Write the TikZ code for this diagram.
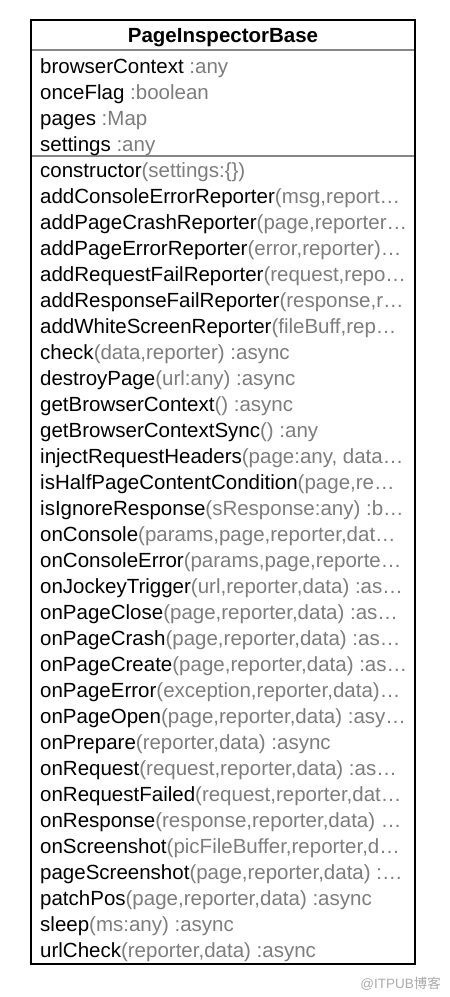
\documentclass[tikz,border=0pt]{standalone}
\usepackage{fontspec}
\setmainfont{Liberation Sans}
\newfontfamily\cjkfont{Noto Sans CJK SC}
\usetikzlibrary{positioning}
\usepackage{xcolor}
\definecolor{paramgray}{RGB}{125,125,125}
\definecolor{rulegray}{RGB}{135,135,135}
\definecolor{markgray}{RGB}{170,170,170}
\newcommand{\op}[2]{#1\textcolor{paramgray}{#2}}
\tikzset{
  member/.style={anchor=base west, inner sep=0pt, font=\fontsize{20.5}{24}\selectfont},
  classname/.style={anchor=base, inner sep=0pt, font=\fontsize{20.5}{24}\selectfont\bfseries},
  rule/.style={rulegray, line width=1.4pt}
}

\begin{document}
\begin{tikzpicture}[x=1pt,y=-1pt]
            \useasboundingbox (0,0) rectangle (450,997);
            \coordinate (nw) at (31,20);
            \coordinate (se) at (415,964);
            \coordinate (t1) at (31,50);
            \coordinate (t2) at (415,50);
            \coordinate (s1) at (31,156);
            \coordinate (s2) at (415,156);
            \draw[rule] (t1) -- (t2);
            \draw[rule] (s1) -- (s2);
            \draw[line width=2pt] (nw) rectangle (se);
            \node[classname] (title) at (223,42) {PageInspectorBase};
            % attributes
            \foreach \a [count=\i] in {{\op{browserContext}{\ :any}},
                {\op{onceFlag}{\ :boolean}}, {\op{pages}{\ :Map}}, {\op{settings}{\ :any}}}
                \node[member] (attr\i) at (40,73+26*\i-26) {\a};
            % operations
            \foreach \m [count=\i] in {
                {\op{constructor}{(settings:\{\})}},
                {\op{addConsoleErrorReporter}{(msg,report…}},
                {\op{addPageCrashReporter}{(page,reporter…}},
                {\op{addPageErrorReporter}{(error,reporter)…}},
                {\op{addRequestFailReporter}{(request,repo…}},
                {\op{addResponseFailReporter}{(response,r…}},
                {\op{addWhiteScreenReporter}{(fileBuff,rep…}},
                {\op{check}{(data,reporter) :async}},
                {\op{destroyPage}{(url:any) :async}},
                {\op{getBrowserContext}{() :async}},
                {\op{getBrowserContextSync}{() :any}},
                {\op{injectRequestHeaders}{(page:any, data…}},
                {\op{isHalfPageContentCondition}{(page,re…}},
                {\op{isIgnoreResponse}{(sResponse:any) :b…}},
                {\op{onConsole}{(params,page,reporter,dat…}},
                {\op{onConsoleError}{(params,page,reporte…}},
                {\op{onJockeyTrigger}{(url,reporter,data) :as…}},
                {\op{onPageClose}{(page,reporter,data) :as…}},
                {\op{onPageCrash}{(page,reporter,data) :as…}},
                {\op{onPageCreate}{(page,reporter,data) :as…}},
                {\op{onPageError}{(exception,reporter,data)…}},
                {\op{onPageOpen}{(page,reporter,data) :asy…}},
                {\op{onPrepare}{(reporter,data) :async}},
                {\op{onRequest}{(request,reporter,data) :as…}},
                {\op{onRequestFailed}{(request,reporter,dat…}},
                {\op{onResponse}{(response,reporter,data) …}},
                {\op{onScreenshot}{(picFileBuffer,reporter,d…}},
                {\op{pageScreenshot}{(page,reporter,data) :…}},
                {\op{patchPos}{(page,reporter,data) :async}},
                {\op{sleep}{(ms:any) :async}},
                {\op{urlCheck}{(reporter,data) :async}}}
                \node[member] (op\i) at (40,177.5+26*\i-26) {\m};
            \node[anchor=base east, inner sep=0pt, markgray, font=\fontsize{13.5}{15}\selectfont] (mark) at (441,988) {@ITPUB{\cjkfont 博客}};
        \end{tikzpicture}
\end{document}
